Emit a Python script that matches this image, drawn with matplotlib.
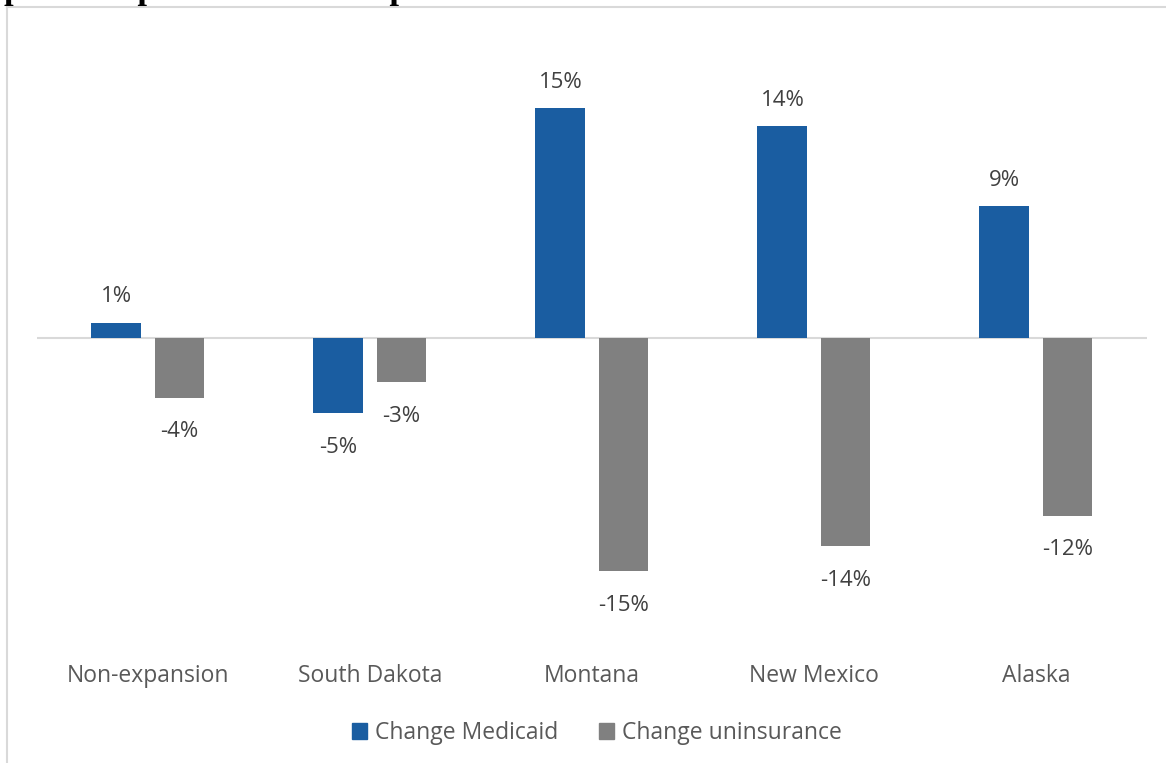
import matplotlib.pyplot as plt
from matplotlib.lines import Line2D
from matplotlib.patches import Patch
import numpy as np

plt.rcParams['font.family'] = ['Open Sans', 'DejaVu Sans']

# change in Medicaid enrollment and uninsurance rate, percentage points
categories = ['Non-expansion', 'South Dakota', 'Montana', 'New Mexico', 'Alaska']
medicaid = [1.0, -4.9, 15.0, 13.8, 8.6]
uninsured = [-3.9, -2.9, -15.2, -13.6, -11.6]
series_names = ['Change Medicaid', 'Change uninsurance']

blue = '#1a5da1'
grey = '#808080'

fig = plt.figure(figsize=(11.66, 7.63), dpi=100)
ax = fig.add_axes([0.0317, 0.1552, 0.952, 0.8037])

x = np.arange(len(categories))
w = 0.225
off = 0.142
b1 = ax.bar(x - off, medicaid, w, color=blue)
b2 = ax.bar(x + off, uninsured, w, color=grey)

ax.axhline(0, color='#d9d9d9', lw=1.5, zorder=0)
ax.set_xlim(-0.5, 4.5)
ax.set_ylim(-20, 20)

# value labels just outside the end of each bar
for bars in (b1, b2):
    for r in bars:
        v = r.get_y() + r.get_height() if r.get_y() == 0 else r.get_y()
        dy = 18.5 if v > 0 else -24.5
        ax.annotate('{:.0f}%'.format(v), (r.get_x() + r.get_width() / 2, v),
                    xytext=(0, dy), textcoords='offset points',
                    ha='center', va='center', fontsize=16, color='#404040')

ax.set_xticks(x)
ax.set_xticklabels(categories, fontsize=16.5, color='#595959')
ax.tick_params(axis='x', length=0, pad=14)
ax.set_yticks([])
for s in ax.spines.values():
    s.set_visible(False)

handles = [Patch(color=blue), Patch(color=grey)]
fig.legend(handles, series_names, loc='center', bbox_to_anchor=(597 / 1166, 1 - 733 / 763),
           ncol=2, frameon=False, fontsize=16.5, handlelength=0.65, handleheight=0.65,
           handletextpad=0.35, columnspacing=1.8, labelcolor='#595959')

# border of the chart area and the heading above it
fig.add_artist(Line2D([7 / 1166, 1], [1 - 7 / 763, 1 - 7 / 763], color='#d9d9d9', lw=1.5))
fig.add_artist(Line2D([7 / 1166, 7 / 1166], [0, 1 - 7 / 763], color='#d9d9d9', lw=1.5))
fig.text(4 / 1166, 1 + 1 / 763, 'pre- and post-Medicaid expansion', family='Liberation Serif',
         fontweight='bold', fontsize=24.8, va='baseline', ha='left')

fig.savefig('out.png', dpi=100)
